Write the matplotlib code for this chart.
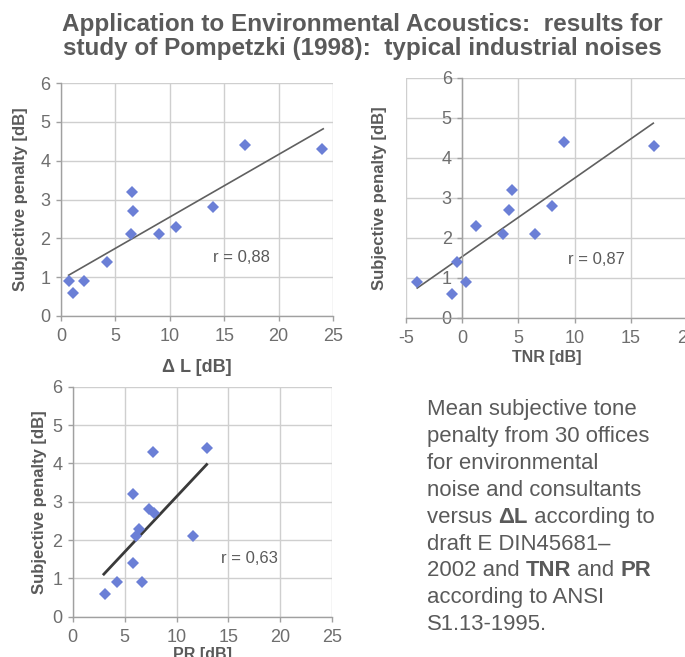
import matplotlib
matplotlib.use('Agg')
import matplotlib.pyplot as plt
from matplotlib.text import Annotation

plt.rcParams['font.family'] = ['Liberation Sans', 'DejaVu Sans']
plt.rcParams['axes.unicode_minus'] = False

# ---------------- data ----------------
title_lines = ["Application to Environmental Acoustics:  results for",
               "study of Pompetzki (1998):  typical industrial noises"]

dl_x = [0.7, 1.1, 2.1, 4.2, 6.4, 6.5, 6.6, 9.0, 10.6, 14.0, 16.9, 24.0]
dl_y = [0.9, 0.6, 0.9, 1.4, 2.1, 3.2, 2.7, 2.1, 2.3, 2.8, 4.4, 4.3]
dl_fit_x = [0.7, 24.1]
dl_fit_y = [1.05, 4.82]
dl_r = "r = 0,88"

tnr_x = [-4.0, -0.9, -0.45, 0.35, 1.25, 3.65, 4.15, 4.45, 6.45, 8.0, 9.05, 17.05]
tnr_y = [0.9, 0.6, 1.4, 0.9, 2.3, 2.1, 2.7, 3.2, 2.1, 2.8, 4.4, 4.3]
tnr_fit_x = [-4.0, 17.0]
tnr_fit_y = [0.75, 4.87]
tnr_r = "r = 0,87"

pr_x = [3.1, 4.3, 5.8, 5.8, 6.1, 6.4, 6.7, 7.3, 7.7, 7.8, 11.6, 12.9]
pr_y = [0.6, 0.9, 1.4, 3.2, 2.1, 2.3, 0.9, 2.8, 4.3, 2.7, 2.1, 4.4]
pr_fit_x = [3.0, 12.9]
pr_fit_y = [1.11, 3.97]
pr_r = "r = 0,63"

y_ticks = [0, 1, 2, 3, 4, 5, 6]
dl_ticks = [0, 5, 10, 15, 20, 25]
tnr_ticks = [-5, 0, 5, 10, 15, 20]
pr_ticks = [0, 5, 10, 15, 20, 25]

ylabel = "Subjective penalty [dB]"

note_lines = [
    [("Mean subjective tone", False)],
    [("penalty from 30 offices", False)],
    [("for environmental", False)],
    [("noise and consultants", False)],
    [("versus ", False), ("\u0394L", True), (" according to", False)],
    [("draft E DIN45681\u2013", False)],
    [("2002 and ", False), ("TNR", True), (" and ", False), ("PR", True)],
    [("according to ANSI", False)],
    [("S1.13-1995.", False)],
]

# ---------------- style ----------------
W, H = 685, 657
fig = plt.figure(figsize=(W / 100, H / 100), dpi=100)
fig.patch.set_facecolor('white')

TXT = '#5a5a5a'
GRID = '#cfcfcf'
SPINE = '#a0a0a0'
MARK = '#6b7fd6'


def style_axes(ax, xticks, xlim):
    ax.set_xlim(*xlim)
    ax.set_ylim(0, 6)
    ax.set_xticks(xticks)
    ax.set_yticks(y_ticks)
    ax.grid(True, color=GRID, linewidth=1.0)
    ax.set_axisbelow(True)
    for s in ['top', 'right']:
        ax.spines[s].set_visible(False)
    for s in ['left', 'bottom']:
        ax.spines[s].set_color(SPINE)
        ax.spines[s].set_linewidth(1.0)
    ax.tick_params(axis='both', colors=SPINE, labelcolor='#6e6e6e',
                   labelsize=13, length=3.5, width=1.0)
    ax.tick_params(axis='x', pad=5)
    ax.tick_params(axis='y', pad=4)


def panel(rect, x, y, fx, fy, rtxt, rpos, xticks, xlim, xlabel, xlsize,
          xlab_y, ylab_x, lw, lc):
    ax = fig.add_axes(rect)
    style_axes(ax, xticks, xlim)
    ax.plot(fx, fy, color=lc, linewidth=lw, zorder=2)
    ax.plot(x, y, linestyle='none', marker='D', markersize=6.4,
            color=MARK, markeredgewidth=0, zorder=3)
    ax.text(rpos[0], rpos[1], rtxt, fontsize=12, color=TXT,
            ha='left', va='center')
    ax.set_xlabel(xlabel, fontsize=xlsize, fontweight='bold', color=TXT)
    ax.xaxis.label.set_va('center')
    ax.xaxis.set_label_coords(0.5, xlab_y)
    ax.set_ylabel(ylabel, fontsize=12, fontweight='bold', color=TXT)
    ax.yaxis.label.set_va('center')
    ax.yaxis.set_label_coords(ylab_x, 0.5)
    return ax


def frac(l, r, t, b):
    return [l / W, 1 - b / H, (r - l) / W, (b - t) / H]


# panel 1: Delta L
panel(frac(61, 333, 83, 316), dl_x, dl_y, dl_fit_x, dl_fit_y, dl_r,
      (14.0, 1.5), dl_ticks, (0, 25), "\u0394 L [dB]", 13,
      -0.223, -0.148, 1.2, '#606060')

# panel 2: TNR
ax2 = panel(frac(406, 687, 78, 318), tnr_x, tnr_y, tnr_fit_x, tnr_fit_y,
            tnr_r, (9.4, 1.45), tnr_ticks, (-5, 20), "TNR [dB]", 11.5,
            -0.165, -0.093, 1.2, '#606060')
ax2.spines['left'].set_position(('data', 0))

# panel 3: PR
panel(frac(72.7, 332.3, 386.7, 616.7), pr_x, pr_y, pr_fit_x, pr_fit_y, pr_r,
      (14.3, 1.52), pr_ticks, (0, 25), "PR [dB]", 11.5,
      -0.165, -0.129, 2.0, '#3a3a3a')

# title
for i, line in enumerate(title_lines):
    fig.text(362 / W, 1 - (31 + 24 * i) / H, line, fontsize=17.5,
             fontweight='bold', color=TXT, ha='center', va='baseline')

# note text with mixed bold
y0 = 410
for i, parts in enumerate(note_lines):
    ypix = y0 + 26.8 * i
    prev = None
    for txt, bold in parts:
        kw = dict(fontsize=15.9, color=TXT,
                  fontweight='bold' if bold else 'normal')
        if prev is None:
            prev = fig.text(427 / W, 1 - ypix / H, txt, ha='left',
                            va='center', **kw)
        else:
            a = Annotation(txt, xy=(1, 0), xycoords=prev,
                           ha='left', va='bottom', **kw)
            fig.add_artist(a)
            prev = a

fig.savefig('out.png', dpi=100)
